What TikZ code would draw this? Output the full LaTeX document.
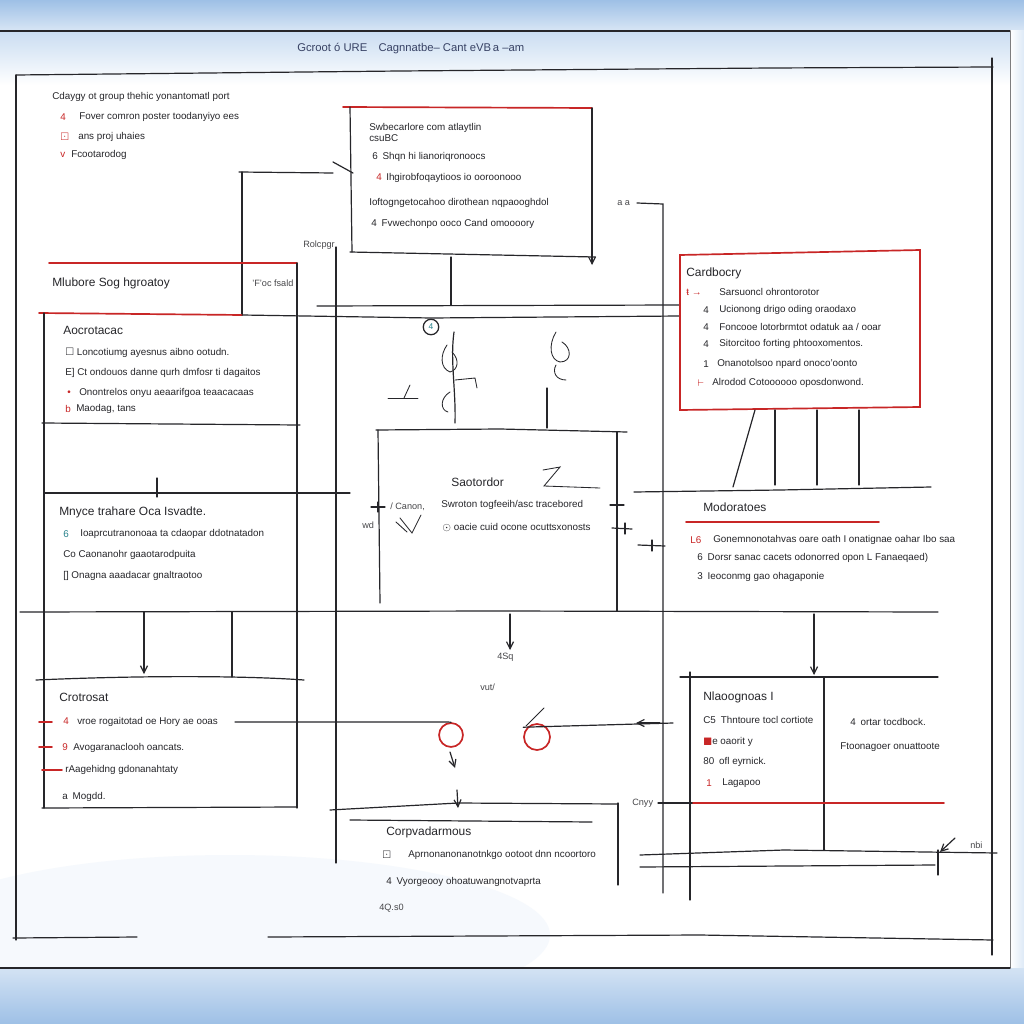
\documentclass[tikz,border=0pt]{standalone}
\usepackage{amssymb}
\usepackage{fontspec}
\setmainfont{Liberation Sans}
\usetikzlibrary{arrows.meta}
\definecolor{ink}{RGB}{38,38,42}
\definecolor{redc}{RGB}{200,38,38}
\definecolor{skyb}{RGB}{158,192,230}
\definecolor{titc}{RGB}{55,65,100}
\definecolor{tealc}{RGB}{40,130,140}
\begin{document}
\begin{tikzpicture}[x=0.025cm,y=-0.025cm,
 ln/.style={draw=ink,line width=0.85pt,line cap=round},
 thin/.style={draw=ink,line width=0.6pt,line cap=round},
 rl/.style={draw=redc,line width=1.2pt,line cap=round},
 ar/.style={ln,-{Straight Barb[length=5pt,width=5pt]}},
 itm/.style={anchor=west,inner sep=0pt,font=\fontsize{7}{8}\selectfont,text=ink},
 hd/.style={anchor=west,inner sep=0pt,font=\fontsize{8.5}{9.5}\selectfont,text=ink},
 mk/.style={anchor=west,inner sep=0pt,font=\fontsize{7}{8}\selectfont,text=redc},
 lbl/.style={anchor=west,inner sep=0pt,font=\fontsize{6.5}{7}\selectfont,text=ink!85}]
\useasboundingbox (0,0) rectangle (1024,1024);
% background
\fill[skyb] (0,0) rectangle (1024,1024);
\shade[top color=skyb, bottom color=skyb!40!white] (0,0) rectangle (1024,31);
\fill[white] (0,31) rectangle (1010,968);
\shade[top color=skyb!55!white, bottom color=white] (0,31) rectangle (1010,85);
\shade[left color=white, right color=skyb!35!white] (1010,31) rectangle (1024,968);
\begin{scope}
\clip (0,850) rectangle (1010,968);
\fill[skyb!9] (230,935) ellipse (320 and 80);
\end{scope}
\shade[top color=skyb!45!white, bottom color=skyb] (0,968) rectangle (1024,1024);
% frame
\draw[ln] (0,31) -- (1010,31);
\draw[thin,draw=ink!60] (1010,31) -- (1010,968);
\draw[ln] (0,968) -- (1010,968);
\draw[ln] (16,75) -- (400,71) -- (771,68) -- (993,67);
\draw[ln] (16,75) -- (16,940);
\draw[ln] (992,58) -- (992,955);
\draw[ln] (13,938) -- (137,937);
\draw[ln] (268,937) -- (700,935) -- (993,940);
% title
\node[anchor=west,inner sep=0pt,font=\fontsize{8}{9}\selectfont,text=titc] (title) at (297,49) {Gcroot ó URE\quad Cagnnatbe-- Cant eVB\,a --am};
% top-left block
\node[itm] (tl0) at (52,97) {Cdaygy ot group thehic yonantomatl port};
\node[mk] (tlm1) at (60,117) {4}; \node[itm] (tl1) at (79,117) {Fover comron poster toodanyiyo ees};
\node[mk] (tlm2) at (60,137) {$\boxdot$}; \node[itm] (tl2) at (78,137) {ans proj uhaies};
\node[mk] (tlm3) at (60,155) {v}; \node[itm] (tl3) at (71,155) {Fcootarodog};
% top centre box
\draw[rl] (343,107) -- (592,108);
\draw[ln] (350,107) -- (352,252);
\draw[ln] (333,162) -- (353,173);
\draw[ln] (239,172) -- (333,173);
\draw[ln] (242,172) -- (242,315);
\draw[ar] (592,108) -- (592,265);
\draw[ln] (350,252) -- (595,257);
\draw[ln] (451,257) -- (451,305);
\node[itm] (tc0) at (369,128) {Swbecarlore com atlaytlin};
\node[itm] (tc0b) at (369,138) {csuBC};
\node[itm] (tc1) at (372,157) {6\enspace Shqn hi lianoriqronoocs};
\node[mk] (tcm2) at (376,177) {4}; \node[itm] (tc2) at (386,178) {Ihgirobfoqaytioos io ooroonooo};
\node[itm] (tc3) at (369,203) {Ioftogngetocahoo dirothean nqpaooghdol};
\node[itm] (tc4) at (371,224) {4\enspace Fvwechonpo ooco Cand omoooory};
\node[lbl] (rolc) at (303,245) {Rolcpgr};
\node[lbl] (aa) at (617,203) {a a};
\draw[ln] (637,203) -- (663,204) -- (663,893);
% left upper box
\node[hd] (ms) at (52,283) {Mlubore Sog hgroatoy};
\node[lbl] (foc) at (252,283) {'F'oc fsald};
\draw[rl] (49,263) -- (297,263);
\draw[ln] (297,263) -- (297,808);
\draw[rl] (39,313) -- (242,315);
\draw[ln] (242,315) -- (431,318) -- (680,316);
\draw[ln] (317,306) -- (680,305);
\draw[ln] (336,247) -- (336,863);
\draw[ln] (44,313) -- (44,808);
\node[circle,draw=ink,fill=white,line width=0.9pt,inner sep=0pt,minimum size=11pt,font=\fontsize{6}{6}\selectfont,text=tealc] (c4) at (431,327) {4};
\node[hd] (ao) at (63,330) {Aocrotacac};
\node[itm] (ao1) at (65,353) {$\square$ Loncotiumg ayesnus aibno ootudn.};
\node[itm] (ao2) at (65,373) {E] Ct ondouos danne qurh dmfosr ti dagaitos};
\node[mk] (aom3) at (67,393) {•}; \node[itm] (ao3) at (79,393) {Onontrelos onyu aeaarifgoa teaacacaas};
\node[mk] (aom4) at (65,409) {b}; \node[itm] (ao4) at (76,409) {Maodag, tans};
\draw[ln] (42,423) -- (300,425);
% sketchy figures in the middle
\draw[ln] (454,332) .. controls (450,360) and (456,390) .. (455,423);
\draw[thin] (447,345) .. controls (440,355) and (440,368) .. (450,372) .. controls (458,370) and (460,360) .. (452,352);
\draw[thin] (455,380) -- (475,378) -- (477,388);
\draw[thin] (450,392) .. controls (440,398) and (440,410) .. (448,412);
\draw[thin] (556,332) .. controls (548,345) and (550,360) .. (560,362) .. controls (572,362) and (572,348) .. (562,342);
\draw[thin] (556,365) .. controls (552,372) and (556,380) .. (566,380);
\draw[ln] (547,388) -- (547,428);
\draw[thin] (388,398) -- (418,398);
\draw[thin] (404,398) -- (410,385);
% centre box
\draw[ln] (376,430) -- (500,429) -- (627,432);
\draw[ln] (378,430) -- (380,603);
\draw[ln] (617,432) -- (617,611);
\node[hd] (sa) at (451,482) {Saotordor};
\draw[thin] (543,470) -- (560,467) -- (544,486) -- (600,488);
\node[itm] (sa1) at (441,505) {Swroton togfeeih/asc tracebored};
\node[itm] (sa2) at (442,528) {$\odot$ oacie cuid ocone ocuttsxonosts};
\node[lbl] (can) at (390,507) {/ Canon,};
\node[lbl] (wd) at (362,525) {wd};
\draw[thin] (400,518) -- (412,533) -- (421,515);
\draw[thin] (396,522) -- (407,532);
\draw[ln] (371,507) -- (385,507); \draw[ln] (378,502) -- (378,512);
\draw[ln] (610,505) -- (624,505); \draw[ln] (617,500) -- (617,510);
\draw[ln] (612,528) -- (632,529); \draw[ln] (625,523) -- (625,534);
\draw[ln] (638,545) -- (665,546); \draw[ln] (652,540) -- (652,551);
% right top box
\draw[rl] (680,255) -- (920,250) -- (920,407) -- (680,410) -- cycle;
\node[hd] (cd) at (686,273) {Cardbocry};
\node[mk] (cdm1) at (686,292) {ŧ →}; \node[itm] (cd1) at (719,292) {Sarsuoncl ohrontorotor};
\node[itm] (cdm2) at (703,310) {4}; \node[itm] (cd2) at (719,310) {Ucionong drigo oding oraodaxo};
\node[itm] (cdm3) at (703,327) {4}; \node[itm] (cd3) at (719,327) {Foncooe lotorbrmtot odatuk aa / ooar};
\node[itm] (cdm4) at (703,344) {4}; \node[itm] (cd4) at (719,344) {Sitorcitoo forting phtooxomentos.};
\node[itm] (cdm5) at (703,364) {1}; \node[itm] (cd5) at (717,364) {Onanotolsoo npard onoco'oonto};
\node[mk] (cdm6) at (697,383) {$\vdash$}; \node[itm] (cd6) at (712,383) {Alrodod Cotoooooo oposdonwond.};
\draw[ln] (755,410) -- (733,487);
\draw[ln] (775,410) -- (775,485);
\draw[ln] (817,410) -- (817,485);
\draw[ln] (859,410) -- (859,485);
\draw[ln] (634,492) -- (780,490) -- (931,487);
\node[hd] (mo) at (703,507) {Modoratoes};
\draw[rl] (686,522) -- (879,522);
\node[mk] (mom1) at (690,540) {L6}; \node[itm] (mo1) at (713,540) {Gonemnonotahvas oare oath I onatignae oahar Ibo saa};
\node[itm] (mo2) at (697,558) {6\enspace Dorsr sanac cacets odonorred opon L Fanaeqaed)};
\node[itm] (mo3) at (697,577) {3\enspace Ieoconmg gao ohagaponie};
% left middle
\draw[ln] (44,493) -- (350,493);
\draw[ln] (157,478) -- (157,497);
\node[hd] (mn) at (59,512) {Mnyce trahare Oca Isvadte.};
\node[itm,text=tealc] (mnm1) at (63,534) {6}; \node[itm] (mn1) at (80,534) {Ioaprcutranonoaa ta cdaopar ddotnatadon};
\node[itm] (mn2) at (63,555) {Co Caonanohr gaaotarodpuita};
\node[itm] (mn3) at (63,576) {[] Onagna aaadacar gnaltraotoo};
% long line
\draw[ln] (20,612) -- (500,611) -- (938,612);
\draw[ar] (144,612) -- (144,674);
\draw[ln] (232,612) -- (232,677);
\draw[ar] (510,614) -- (510,650);
\node[lbl] (sq) at (497,657) {4Sq};
\node[lbl] (vut) at (480,687) {vut/};
\draw[ar] (814,614) -- (814,675);
% left lower box
\draw[ln] (36,680) .. controls (150,675) and (250,676) .. (304,680);
\node[hd] (cr) at (59,697) {Crotrosat};
\draw[rl] (39,722) -- (52,722); \node[mk] (crm1) at (63,721) {4};
\node[itm] (cr1) at (77,722) {vroe rogaitotad oe Hory ae ooas};
\draw[rl] (39,747) -- (52,747); \node[mk] (crm2) at (62,747) {9};
\node[itm] (cr2) at (73,748) {Avogaranaclooh oancats.};
\draw[rl] (42,770) -- (62,770);
\node[itm] (cr3) at (65,770) {rAagehidng gdonanahtaty};
\node[itm] (cr4) at (62,797) {a\enspace Mogdd.};
\draw[ln] (42,808) -- (297,807);
% red circles
\node[circle,draw=redc,line width=1.2pt,minimum size=17pt,inner sep=0pt] (rc1) at (451,735) {};
\node[circle,draw=redc,line width=1.2pt,minimum size=18.5pt,inner sep=0pt] (rc2) at (537,737) {};
\draw[ln] (235,722) -- (447,722) -- (rc1.north);
\draw[ln] (rc2.north west) ++(-4,0) -- (673,723);
\draw[thin] (526,726) -- (544,708);
\draw[ln,-{Straight Barb[length=5pt,width=5pt]}] (660,723) -- (636,723);
\draw[ar] (450,752) -- (455,768);
\draw[ar] (457,790) -- (458,808);
% bottom centre
\draw[ln] (330,810) -- (458,803) -- (618,804);
\draw[ln] (618,803) -- (618,885);
\draw[ln] (350,820) -- (592,822);
\node[hd] (cp) at (386,832) {Corpvadarmous};
\node[itm] (cpm1) at (382,855) {$\boxdot$}; \node[itm] (cp1) at (408,855) {Aprnonanonanotnkgo ootoot dnn ncoortoro};
\node[itm] (cp2) at (386,882) {4\enspace Vyorgeooy ohoatuwangnotvaprta};
\node[lbl] (q) at (379,908) {4Q.s0};
% right lower
\draw[ln] (690,672) -- (690,900);
\draw[ln] (680,677) -- (938,677);
\draw[ln] (824,677) -- (824,850);
\node[hd] (nl) at (703,697) {Nlaoognoas I};
\node[itm] (nl1) at (703,720) {C5\enspace Thntoure tocl cortiote};
\node[mk] (nlm2) at (703,742) {$\blacksquare$}; \node[itm] (nl2) at (712,742) {e oaorit y};
\node[itm] (nl3) at (703,762) {80\enspace ofl eyrnick.};
\node[mk] (nlm4) at (706,783) {1}; \node[itm] (nl4) at (722,783) {Lagapoo};
\node[itm] (nr1) at (850,722) {4\enspace ortar tocdbock.};
\node[itm] (nr2) at (840,747) {Ftoonagoer onuattoote};
\node[lbl] (cny) at (632,803) {Cnyy};
\draw[ln] (658,803) -- (693,803);
\draw[rl] (693,803) -- (944,803);
\draw[ln] (640,855) -- (784,850) -- (997,853);
\draw[ln] (640,867) -- (935,865);
\draw[ln] (938,850) -- (938,875);
\draw[ln,-{Straight Barb[length=5pt,width=5pt]}] (955,838) -- (940,852);
\node[lbl] (nbi) at (970,845) {nbi};
\end{tikzpicture}
\end{document}
